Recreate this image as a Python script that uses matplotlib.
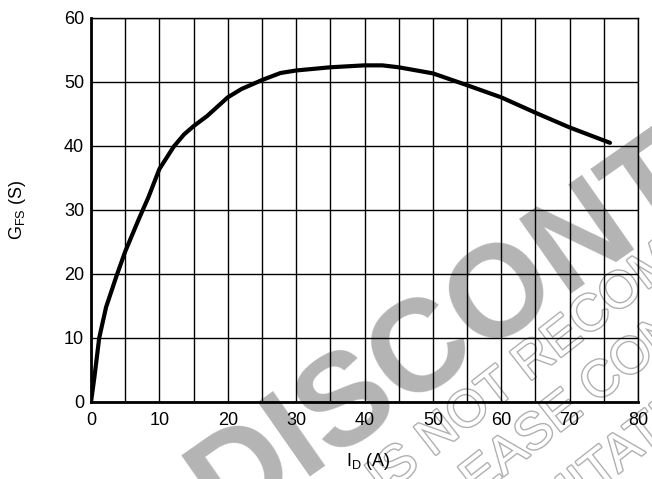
import numpy as np
import matplotlib.pyplot as plt
import matplotlib.patheffects as pe

plt.rcParams['font.family'] = ['Liberation Sans', 'DejaVu Sans']

# drain current (A) vs forward transconductance (S)
i_d = [0, 0.5, 1.2, 2.2, 3.7, 5, 7, 8.4, 10, 12.1, 13.6, 15, 17, 20, 22, 25,
       27.7, 30, 35, 40, 42.6, 45, 50, 55, 60, 65, 70, 75.9]
g_fs = [0, 3.9, 10, 14.8, 19.6, 23.5, 28.6, 32, 36.4, 39.9, 41.8, 43.1, 44.7, 47.6,
        48.9, 50.3, 51.4, 51.8, 52.3, 52.6, 52.6, 52.3, 51.35, 49.5, 47.6, 45.2,
        42.9, 40.5]

x_ticks = [0, 10, 20, 30, 40, 50, 60, 70, 80]
y_ticks = [0, 10, 20, 30, 40, 50, 60]

W, H = 652, 479
fig = plt.figure(figsize=(W / 100, H / 100), dpi=100)
ax = fig.add_axes([91 / W, 1 - 402 / H, (638 - 91) / W, (402 - 18) / H])
ax.set_facecolor('none')

# watermark behind the plot
wm = dict(rotation_mode='anchor', ha='left', va='baseline',
          transform=fig.transFigure, zorder=-10)
fig.text(225 / W, 1 - 530 / H, 'DISCONTINUED', fontsize=94, fontweight='bold',
         color='#b4b4b4', rotation=35, **wm)
outline = [pe.withStroke(linewidth=2, foreground='#b0b0b0')]
for x0, y0, s in [(383, 496, 'IS NOT RECOMMENDED FOR NEW DESIGNS'),
                  (427, 536, 'PLEASE CONTACT SALES'),
                  (518, 552, 'LIMITATIONS')]:
    t = fig.text(x0 / W, 1 - y0 / H, s, fontsize=37, color='white', rotation=38, **wm)
    t.set_path_effects(outline)

ax.plot(i_d, g_fs, color='black', lw=3, solid_capstyle='round', zorder=5)

ax.set_xlim(0, 80)
ax.set_ylim(0, 60)
ax.set_xticks(np.arange(0, 81, 5))
ax.set_xticklabels([str(v) if v in x_ticks else '' for v in range(0, 81, 5)])
ax.set_yticks(y_ticks)
ax.grid(True, color='black', lw=1)
ax.tick_params(length=0, labelsize=13)
ax.tick_params(axis='x', pad=7)
ax.tick_params(axis='y', pad=5)
for s in ['left', 'bottom']:
    ax.spines[s].set_linewidth(2)
for s in ['top', 'right']:
    ax.spines[s].set_linewidth(1)

fig.text(18 / W, 1 - 210 / H, r'G$_{\mathregular{FS}}$ (S)', rotation=90,
         ha='center', va='center', fontsize=13)
fig.text(368 / W, 1 - 461 / H, r'I$_{\mathregular{D}}$ (A)',
         ha='center', va='center', fontsize=13)

fig.savefig('out.png', dpi=100)
